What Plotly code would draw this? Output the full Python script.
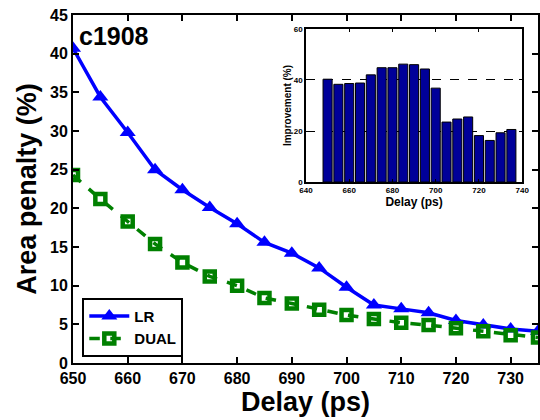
import plotly.graph_objects as go

delay = [650, 655, 660, 665, 670, 675, 680, 685, 690, 695, 700, 705, 710, 715, 720, 725, 730, 735]
lr = [40.7, 34.4, 29.8, 25.0, 22.4, 20.1, 18.0, 15.6, 14.2, 12.3, 9.8, 7.5, 7.0, 6.5, 5.5, 4.9, 4.4, 4.1]
dual = [24.3, 21.2, 18.3, 15.4, 13.0, 11.2, 10.0, 8.4, 7.7, 6.9, 6.2, 5.7, 5.2, 4.9, 4.5, 4.1, 3.6, 3.3]
improvement = [40.3, 38.3, 38.6, 38.8, 42.0, 44.8, 44.8, 46.2, 46.0, 44.3, 36.8, 23.5, 24.7, 25.5, 18.2, 16.3, 19.3, 20.6]

main_xticks = [650, 660, 670, 680, 690, 700, 710, 720, 730]
main_yticks = [0, 5, 10, 15, 20, 25, 30, 35, 40, 45]
inset_xticks = [640, 660, 680, 700, 720, 740]
inset_yticks = [0, 20, 40, 60]

FONT = "Liberation Sans, Arial, sans-serif"

fig = go.Figure()
fig.add_trace(go.Scatter(
    x=delay, y=lr, name="LR", mode="lines+markers",
    line=dict(color="#0000ff", width=3.5),
    marker=dict(symbol="triangle-up", size=14, color="#0000ff"),
    xaxis="x", yaxis="y"))
fig.add_trace(go.Scatter(
    x=delay, y=dual, name="DUAL", mode="lines+markers",
    line=dict(color="#008000", width=3.5, dash="dash"),
    marker=dict(symbol="square-open", size=10, color="#008000", line=dict(width=4.5, color="#008000")),
    xaxis="x", yaxis="y"))
fig.add_trace(go.Bar(
    x=delay, y=improvement, showlegend=False, width=4.2,
    marker=dict(color="#000099", line=dict(color="black", width=1)),
    xaxis="x2", yaxis="y2"))

axis_common = dict(showline=True, linecolor="black", linewidth=2, mirror="ticks",
                   ticks="inside", tickcolor="black", showgrid=False, zeroline=False,
                   automargin=False)

fig.update_layout(
    width=540, height=420,
    margin=dict(l=73, r=2, t=15, b=57),
    paper_bgcolor="white", plot_bgcolor="white",
    font=dict(family=FONT, color="black"),
    xaxis=dict(range=[650, 735], tickvals=main_xticks, ticklen=6, tickwidth=1.5,
               tickfont=dict(size=16, family=FONT, weight="bold"),
               title=dict(text="<b>Delay (ps)</b>", font=dict(size=27), standoff=4),
               **axis_common),
    yaxis=dict(range=[0, 45], tickvals=main_yticks, ticklen=6, tickwidth=1.5,
               tickfont=dict(size=16, family=FONT, weight="bold"),
               title=dict(text="<b>Area penalty (%)</b>", font=dict(size=27), standoff=6),
               **axis_common),
    xaxis2=dict(domain=[0.501, 0.966], anchor="y2", range=[640, 740], tickvals=inset_xticks,
                ticklen=3, tickwidth=1,
                tickfont=dict(size=8, family=FONT, weight="bold"),
                title=dict(text="<b>Delay (ps)</b>", font=dict(size=12), standoff=2),
                showline=True, linecolor="black", linewidth=1.5, mirror="ticks",
                ticks="inside", tickcolor="black", showgrid=False, zeroline=False,
                automargin=False),
    yaxis2=dict(domain=[0.52, 0.96], anchor="x2", range=[0, 60], tickvals=inset_yticks,
                ticklen=3, tickwidth=1,
                tickfont=dict(size=8, family=FONT, weight="bold"),
                title=dict(text="<b>Improvement (%)</b>", font=dict(size=10), standoff=0),
                showline=True, linecolor="black", linewidth=1.5, mirror="ticks",
                ticks="inside", tickcolor="black", showgrid=True, gridcolor="black",
                griddash="dash", gridwidth=1, zeroline=False, automargin=False),
    legend=dict(x=0.02, y=0.018, xanchor="left", yanchor="bottom",
                bordercolor="black", borderwidth=2, bgcolor="white",
                font=dict(size=15, family=FONT, weight="bold"),
                tracegroupgap=0, itemwidth=40),
    bargap=0.15,
    showlegend=True,
)

fig.add_annotation(text="<b>c1908</b>", x=0.008, y=0.985, xref="paper", yref="paper",
                   xanchor="left", yanchor="top", showarrow=False,
                   font=dict(size=25, family=FONT, color="black"))

fig.write_html("out.html", config={"displayModeBar": False},
               post_script="document.body.style.margin='0';document.body.style.overflow='hidden';")
